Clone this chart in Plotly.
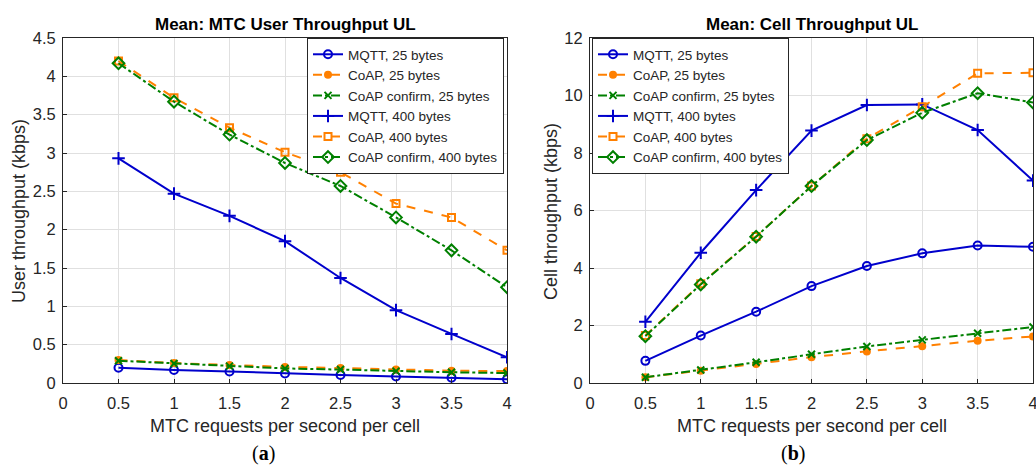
import plotly.graph_objects as go

x_vals = [0.5, 1, 1.5, 2, 2.5, 3, 3.5, 4]

names = ["MQTT, 25 bytes", "CoAP, 25 bytes", "CoAP confirm, 25 bytes",
         "MQTT, 400 bytes", "CoAP, 400 bytes", "CoAP confirm, 400 bytes"]

# (a) Mean MTC user throughput UL (kbps)
user_mqtt_25 = [0.20, 0.17, 0.15, 0.125, 0.105, 0.085, 0.07, 0.05]
user_coap_25 = [0.30, 0.26, 0.235, 0.21, 0.195, 0.175, 0.16, 0.155]
user_coapc_25 = [0.29, 0.255, 0.22, 0.19, 0.175, 0.155, 0.14, 0.13]
user_mqtt_400 = [2.93, 2.47, 2.18, 1.85, 1.37, 0.95, 0.64, 0.335]
user_coap_400 = [4.20, 3.72, 3.33, 3.01, 2.75, 2.34, 2.16, 1.73]
user_coapc_400 = [4.17, 3.67, 3.24, 2.87, 2.57, 2.16, 1.73, 1.25]

# (b) Mean cell throughput UL (kbps)
cell_mqtt_25 = [0.77, 1.65, 2.48, 3.37, 4.07, 4.51, 4.78, 4.74]
cell_coap_25 = [0.20, 0.43, 0.66, 0.90, 1.10, 1.28, 1.47, 1.62]
cell_coapc_25 = [0.20, 0.45, 0.72, 1.00, 1.27, 1.50, 1.73, 1.95]
cell_mqtt_400 = [2.13, 4.53, 6.71, 8.78, 9.67, 9.69, 8.80, 7.04]
cell_coap_400 = [1.65, 3.45, 5.10, 6.85, 8.50, 9.61, 10.77, 10.79]
cell_coapc_400 = [1.63, 3.43, 5.09, 6.85, 8.45, 9.40, 10.08, 9.76]

x_ticks = [0, 0.5, 1, 1.5, 2, 2.5, 3, 3.5, 4]
x_tick_labels = ["0", "0.5", "1", "1.5", "2", "2.5", "3", "3.5", "4"]
user_ticks = [0, 0.5, 1, 1.5, 2, 2.5, 3, 3.5, 4, 4.5]
user_tick_labels = ["0", "0.5", "1", "1.5", "2", "2.5", "3", "3.5", "4", "4.5"]
cell_ticks = [0, 2, 4, 6, 8, 10, 12]
cell_tick_labels = ["0", "2", "4", "6", "8", "10", "12"]

x_title = "MTC requests per second per cell"
user_y_title = "User throughput (kbps)"
cell_y_title = "Cell throughput (kbps)"
title_a = "Mean: MTC User Throughput UL"
title_b = "Mean: Cell Throughput UL"

BLUE = "#0000CC"
ORANGE = "#FF8000"
GREEN = "#008000"

styles = [
    dict(color=BLUE, dash="solid", symbol="circle-open", size=8),
    dict(color=ORANGE, dash="dash", symbol="circle", size=6),
    dict(color=GREEN, dash="dashdot", symbol="x-thin-open", size=7),
    dict(color=BLUE, dash="solid", symbol="cross-thin-open", size=9),
    dict(color=ORANGE, dash="dash", symbol="square-open", size=7),
    dict(color=GREEN, dash="dashdot", symbol="diamond-open", size=9),
]

user_series = [user_mqtt_25, user_coap_25, user_coapc_25,
               user_mqtt_400, user_coap_400, user_coapc_400]
cell_series = [cell_mqtt_25, cell_coap_25, cell_coapc_25,
               cell_mqtt_400, cell_coap_400, cell_coapc_400]

fig = go.Figure()

for i, (nm, st) in enumerate(zip(names, styles)):
    fig.add_trace(go.Scatter(
        x=x_vals, y=user_series[i], name=nm, mode="lines+markers",
        line=dict(color=st["color"], dash=st["dash"], width=2),
        marker=dict(symbol=st["symbol"], size=st["size"], color=st["color"],
                    line=dict(color=st["color"], width=2)),
        xaxis="x", yaxis="y", legend="legend"))
for i, (nm, st) in enumerate(zip(names, styles)):
    fig.add_trace(go.Scatter(
        x=x_vals, y=cell_series[i], name=nm, mode="lines+markers",
        line=dict(color=st["color"], dash=st["dash"], width=2),
        marker=dict(symbol=st["symbol"], size=st["size"], color=st["color"],
                    line=dict(color=st["color"], width=2)),
        xaxis="x2", yaxis="y2", legend="legend2"))

W, H = 1036, 466
ydom = [1 - 383 / H, 1 - 38 / H]
font_family = "Liberation Sans, Arial, sans-serif"
axis_common = dict(showgrid=True, gridcolor="#E0E0E0", gridwidth=1,
                   showline=True, linecolor="#262626", linewidth=1, mirror=True,
                   ticks="inside", ticklen=4, tickcolor="#262626",
                   tickfont=dict(size=16.5, color="#262626", family=font_family),
                   zeroline=False, automargin=False)
xaxis_extra = dict(ticklabelstandoff=5, ticklabeloverflow="allow")
yaxis_extra = dict(ticklabelstandoff=3)
title_font = dict(size=18, color="#262626", family=font_family)


def paper_x(px):
    return px / W


def paper_y(py):
    return 1 - py / H


annotations = [
    dict(text="<b>" + title_a + "</b>", x=paper_x(285), y=paper_y(25),
         font=dict(size=17, color="black", family=font_family)),
    dict(text="<b>" + title_b + "</b>", x=paper_x(812), y=paper_y(25),
         font=dict(size=17, color="black", family=font_family)),
    dict(text=x_title, x=paper_x(285), y=paper_y(426), font=title_font),
    dict(text=x_title, x=paper_x(811.5), y=paper_y(426), font=title_font),
    dict(text=user_y_title, x=paper_x(19), y=paper_y(211), textangle=-90,
         font=title_font),
    dict(text=cell_y_title, x=paper_x(551), y=paper_y(212), textangle=-90,
         font=title_font),
    dict(text="(<b>a</b>)", x=paper_x(263), y=paper_y(453),
         font=dict(size=20, color="black", family="Liberation Serif, serif")),
    dict(text="(<b>b</b>)", x=paper_x(793), y=paper_y(453),
         font=dict(size=20, color="black", family="Liberation Serif, serif")),
]
for a in annotations:
    a.update(xref="paper", yref="paper", xanchor="center", yanchor="middle",
             showarrow=False)

fig.update_layout(
    template="none",
    width=W, height=H,
    margin=dict(l=0, r=0, t=0, b=0, pad=0),
    paper_bgcolor="white", plot_bgcolor="white",
    font=dict(family=font_family, color="#262626"),
    showlegend=True,
    xaxis=dict(domain=[63 / W, 507 / W], range=[0, 4], tickvals=x_ticks,
               ticktext=x_tick_labels, anchor="y", **axis_common, **xaxis_extra),
    yaxis=dict(domain=ydom, range=[0, 4.5], tickvals=user_ticks,
               ticktext=user_tick_labels, anchor="x", **axis_common, **yaxis_extra),
    xaxis2=dict(domain=[590 / W, 1033 / W], range=[0, 4], tickvals=x_ticks,
                ticktext=x_tick_labels, anchor="y2", **axis_common, **xaxis_extra),
    yaxis2=dict(domain=ydom, range=[0, 12], tickvals=cell_ticks,
                ticktext=cell_tick_labels, anchor="x2", **axis_common, **yaxis_extra),
    legend=dict(x=504 / W, y=paper_y(38), xanchor="right", yanchor="top",
                bgcolor="white", bordercolor="#262626", borderwidth=1,
                font=dict(size=13.5, color="#262626", family=font_family),
                tracegroupgap=0, itemwidth=30),
    legend2=dict(x=592 / W, y=paper_y(38), xanchor="left", yanchor="top",
                 bgcolor="white", bordercolor="#262626", borderwidth=1,
                 font=dict(size=13.5, color="#262626", family=font_family),
                 tracegroupgap=0, itemwidth=30),
    annotations=annotations,
)

fig.write_html("out.html", config={"displayModeBar": False},
               post_script="document.body.style.margin='0';document.body.style.overflow='hidden';")
